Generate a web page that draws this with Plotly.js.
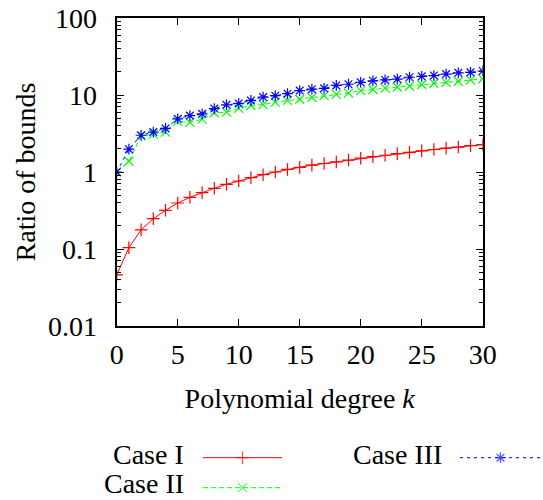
<!DOCTYPE html>
<html>
<head>
<meta charset="utf-8">
<script src="https://cdn.plot.ly/plotly-3.0.1.min.js"></script>
<style>html,body{margin:0;padding:0;background:#fff;}#chart{width:543px;height:500px;}</style>
</head>
<body>
<div id="chart"></div>
<script>
// ---- data ----
var degreeK = [0,1,2,3,4,5,6,7,8,9,10,11,12,13,14,15,16,17,18,19,20,21,22,23,24,25,26,27,28,29,30];
var caseI   = [0.046,0.104,0.177,0.248,0.318,0.396,0.469,0.539,0.614,0.692,0.764,0.843,0.923,1.0,1.08,1.15,1.23,1.29,1.35,1.43,1.51,1.58,1.65,1.73,1.80,1.88,1.96,2.04,2.11,2.20,2.27];
var caseII  = [1.0,1.38,2.92,3.1,3.3,4.55,4.4,4.85,5.85,6.0,6.7,7.3,7.5,8.1,8.5,8.8,9.3,9.8,10.2,10.6,11.4,11.8,12.3,12.7,13.1,13.7,14.2,14.6,15.1,15.7,16.2];
var caseIII = [1.0,1.98,3.0,3.3,3.68,4.9,5.4,5.7,6.67,7.45,7.77,8.5,9.4,9.8,10.4,11.4,11.9,12.2,13.3,13.8,14.6,15.3,15.7,16.1,17.0,17.5,17.9,18.7,19.4,19.7,20.5];
var seriesNames = ["Case I","Case II","Case III"];
var yTickVals = [0.01,0.1,1,10,100];
var yTickText = ["0.01","0.1","1","10","100"];
var xTickVals = [0,5,10,15,20,25,30];
var xTickText = ["0","5","10","15","20","25","30"];

// ---- styling ----
var FONT = "Liberation Serif";
var FS = 28;
var W = 543, H = 500;
var colors = ["#ff0000","#00ff00","#0000ff"];
var symbols = ["cross-thin-open","x-thin-open","asterisk-open"];
var dashes = ["solid","5px,3px","3px,4px"];
var values = [caseI, caseII, caseIII];

// minor tick positions for the log axis (2..9 in each decade)
var minorVals = [];
for (var d = -2; d < 2; d++) for (var m = 2; m <= 9; m++) minorVals.push(m * Math.pow(10, d));

var traces = [];
for (var i = 0; i < 3; i++) {
  traces.push({
    x: degreeK, y: values[i], name: seriesNames[i], type: "scatter", mode: "lines+markers",
    xaxis: "x", yaxis: "y", cliponaxis: true,
    line: {color: colors[i], width: 1, dash: dashes[i]},
    marker: {symbol: symbols[i], size: 9, color: colors[i], line: {color: colors[i], width: 1.2}}
  });
}

// custom legend (text left of sample), placed in a pixel-unit overlay axis
var legendPos = [
  {tx: 185, ty: 471, sx0: 203, sx1: 282, y: 457.7},
  {tx: 185, ty: 500, sx0: 203, sx1: 282, y: 487.7},
  {tx: 443, ty: 471, sx0: 460, sx1: 541, y: 457.7}
];
var annotations = [];
for (var j = 0; j < 3; j++) {
  var p = legendPos[j];
  traces.push({
    x: [p.sx0, (p.sx0 + p.sx1) / 2, p.sx1], y: [p.y, p.y, p.y],
    xaxis: "x2", yaxis: "y2", type: "scatter", mode: "lines+markers", showlegend: false, hoverinfo: "skip",
    line: {color: colors[j], width: 1, dash: dashes[j]},
    marker: {symbol: symbols[j], size: [0, 9, 0], color: colors[j], line: {color: colors[j], width: 1.2}}
  });
  annotations.push({
    xref: "x2", yref: "y2", x: p.tx, y: p.ty, xanchor: "right", yanchor: "bottom",
    text: seriesNames[j], showarrow: false, borderpad: 0,
    font: {family: FONT, size: FS, color: "#000"}
  });
}

var axisCommon = {
  showline: true, linecolor: "#000", linewidth: 2, mirror: "allticks",
  ticks: "inside", ticklen: 7, tickwidth: 1, tickcolor: "#000",
  showgrid: false, zeroline: false, automargin: false,
  tickfont: {family: FONT, size: FS, color: "#000"}
};

var layout = {
  width: W, height: H,
  margin: {l: 0, r: 0, t: 0, b: 0, pad: 0},
  paper_bgcolor: "#fff", plot_bgcolor: "rgba(0,0,0,0)",
  showlegend: false,
  font: {family: FONT, size: FS, color: "#000"},
  xaxis: Object.assign({}, axisCommon, {
    domain: [116.7 / W, 482.7 / W], range: [0, 30],
    tickmode: "array", tickvals: xTickVals, ticktext: xTickText,
    ticklabelstandoff: 2, anchor: "y",
    title: {text: "Polynomial degree <i>k</i>", font: {family: FONT, size: FS, color: "#000"}, standoff: 20}
  }),
  yaxis: Object.assign({}, axisCommon, {
    domain: [1 - 326 / H, 1 - 18 / H], type: "log", range: [-2, 2],
    tickmode: "array", tickvals: yTickVals, ticktext: yTickText,
    ticklabelstandoff: 12, anchor: "x",
    minor: {tickmode: "array", tickvals: minorVals, ticks: "inside", ticklen: 4, tickwidth: 1, tickcolor: "#000", showgrid: false},
    title: {text: "Ratio of bounds", font: {family: FONT, size: FS, color: "#000"}, standoff: 4}
  }),
  xaxis2: {domain: [0, 1], range: [0, W], visible: false, fixedrange: true, anchor: "y2"},
  yaxis2: {domain: [0, 1], range: [H, 0], visible: false, fixedrange: true, anchor: "x2"},
  annotations: annotations
};

Plotly.newPlot("chart", traces, layout, {staticPlot: true, displayModeBar: false});
</script>
</body>
</html>
